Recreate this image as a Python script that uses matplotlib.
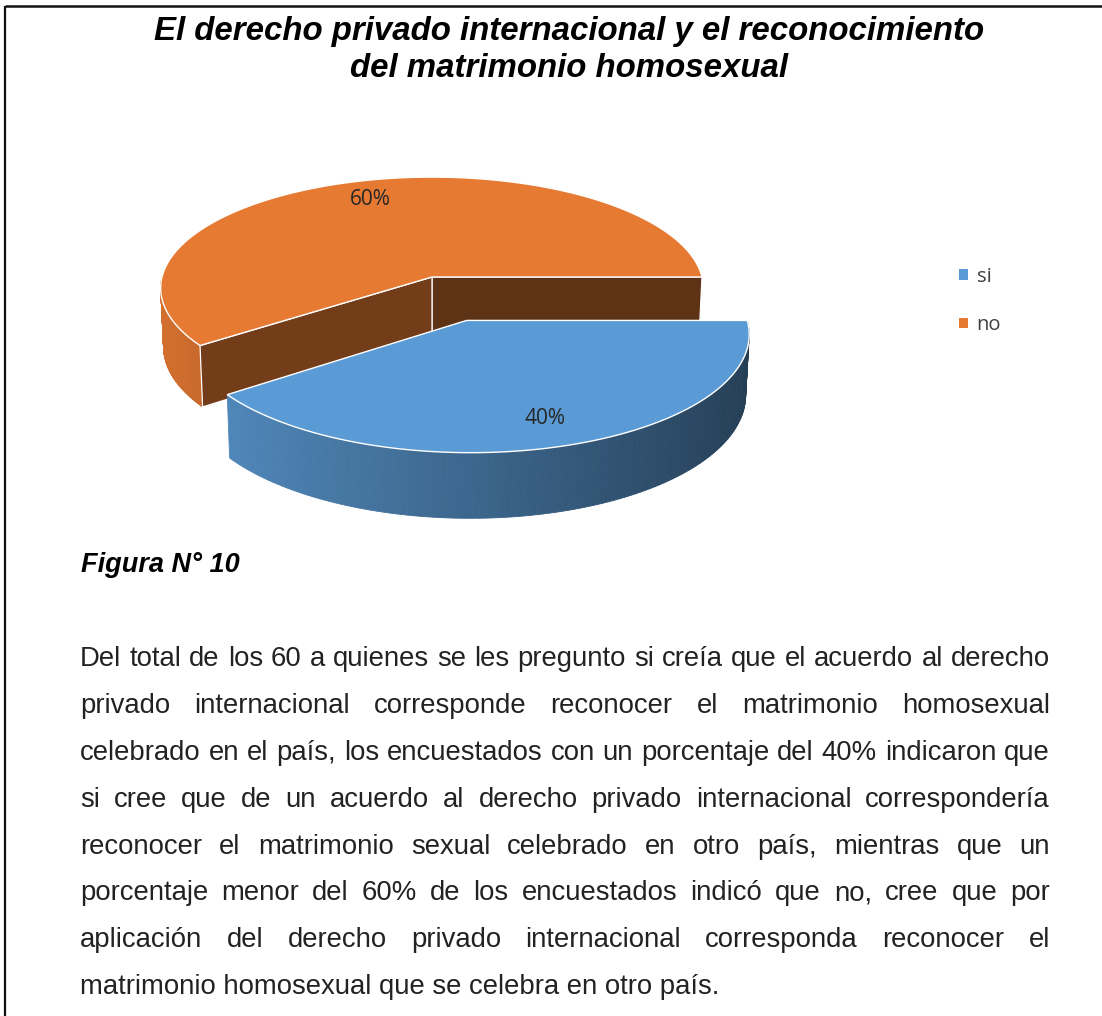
"""3D exploded pie (Excel style) with caption and justified paragraph."""
import numpy as np
import matplotlib
matplotlib.use("Agg")
import matplotlib.pyplot as plt
from matplotlib.patches import Polygon, Patch
from matplotlib.colors import to_rgb

W, H = 1102, 1016

TITLE = ["El derecho privado internacional y el reconocimiento",
         "del matrimonio homosexual"]
LABELS = ["si", "no"]
SHARES = [40, 60]
COLORS = ["#5B9BD5", "#E67A33"]
EXPLODE = [0.40, 0.0]
CAPTION = "Figura N° 10"
PARAGRAPH = [
    "Del total de los 60 a quienes se les pregunto si creía que el acuerdo al derecho",
    "privado internacional corresponde reconocer el matrimonio homosexual",
    "celebrado en el país, los encuestados con un porcentaje del 40% indicaron que",
    "si cree que de un acuerdo al derecho privado internacional correspondería",
    "reconocer el matrimonio sexual celebrado en otro país, mientras que un",
    "porcentaje menor del 60% de los encuestados indicó que no, cree que por",
    "aplicación del derecho privado internacional corresponda reconocer el",
    "matrimonio homosexual que se celebra en otro país.",
]

# camera for the 3D pie (pixel units on a full-figure axes)
CX, CY = 432, 277
ELEV = np.radians(24)
DIST = 9.2
SCALE = 2484
DEPTH = 0.24
START = 0.0      # degrees, slices run clockwise from 3 o'clock
LABEL_R = 0.8


def proj(x, y, z):
    x, y, z = np.broadcast_arrays(x, y, z)
    yc = y * np.sin(ELEV) + z * np.cos(ELEV)
    zc = DIST + y * np.cos(ELEV) - z * np.sin(ELEV)
    return np.column_stack([CX + SCALE * x / zc, CY - SCALE * yc / zc])


def shade(color, f):
    return tuple(np.clip(np.array(to_rgb(color)) * f, 0, 1))


def wall_shade(t):
    return 0.66 - 0.26 * np.cos(t)


def face_shade(n):
    return 0.41 + 0.15 * np.cos(n)


fig = plt.figure(figsize=(W / 100, H / 100), dpi=100)
ax = fig.add_axes([0, 0, 1, 1])
ax.set_xlim(0, W)
ax.set_ylim(H, 0)
ax.axis("off")

# page frame (only top and left visible)
ax.plot([5, 5], [6, H], color="#111111", lw=1.6, solid_capstyle="butt")
ax.plot([5, W], [6, 6], color="#111111", lw=1.8, solid_capstyle="butt")

# slices
total = sum(SHARES)
slices = []
cum = 0
for lab, val, col, ex in zip(LABELS, SHARES, COLORS, EXPLODE):
    a_start = np.radians(START - cum / total * 360)
    a_end = np.radians(START - (cum + val) / total * 360)
    cum += val
    lo, hi = a_end, a_start
    mid = (lo + hi) / 2
    ox, oy = ex * np.cos(mid), ex * np.sin(mid)
    slices.append(dict(label=lab, color=col, lo=lo, hi=hi, mid=mid, ox=ox, oy=oy,
                       val=val))

# paint back-to-front
slices.sort(key=lambda s: -(s["oy"] + 0.5 * np.sin(s["mid"])))
for s in slices:
    lo, hi, ox, oy, col = s["lo"], s["hi"], s["ox"], s["oy"], s["color"]
    # outer wall, front-facing part only
    for k in range(-2, 3):
        a = max(lo, -np.pi + 2 * np.pi * k)
        b = min(hi, 2 * np.pi * k)
        if b - a < 1e-6:
            continue
        ts = np.linspace(a, b, 120)
        for t0, t1 in zip(ts[:-1], ts[1:]):
            xs = ox + np.cos([t0, t1, t1, t0])
            ys = oy + np.sin([t0, t1, t1, t0])
            zs = np.array([0, 0, -DEPTH, -DEPTH])
            c = shade(col, wall_shade((t0 + t1) / 2))
            ax.add_patch(Polygon(proj(xs, ys, zs), closed=True, facecolor=c,
                                 edgecolor=c, lw=0.6, zorder=2))
    # radial cut faces
    for ang, nrm in ((lo, lo - np.pi / 2), (hi, hi + np.pi / 2)):
        if np.sin(nrm) >= 0:
            continue
        xs = ox + np.array([0, np.cos(ang), np.cos(ang), 0])
        ys = oy + np.array([0, np.sin(ang), np.sin(ang), 0])
        zs = np.array([0, 0, -DEPTH, -DEPTH])
        ax.add_patch(Polygon(proj(xs, ys, zs), closed=True,
                             facecolor=shade(col, face_shade(nrm)),
                             edgecolor="white", lw=0.9, zorder=2))
    # top face
    ts = np.linspace(lo, hi, 240)
    xs = np.concatenate([[ox], ox + np.cos(ts)])
    ys = np.concatenate([[oy], oy + np.sin(ts)])
    ax.add_patch(Polygon(proj(xs, ys, 0), closed=True, facecolor=col,
                         edgecolor="white", lw=1.0, zorder=3))
    # data label
    r = LABEL_R
    lx, ly = proj(ox + r * np.cos(s["mid"]), oy + r * np.sin(s["mid"]), 0)[0]
    ax.text(lx, ly, f"{s['val']}%", ha="center", va="center", fontsize=15,
            family="Open Sans", color="#262626", zorder=4)

# legend
handles = [Patch(facecolor=c, label=l) for l, c in zip(LABELS, COLORS)]
ax.legend(handles=handles, loc="center left", bbox_to_anchor=(949, 301),
          bbox_transform=ax.transData, frameon=False,
          prop=dict(family="Open Sans", size=14.5), labelcolor="#404040",
          handlelength=0.42, handleheight=0.42, handletextpad=0.45,
          labelspacing=1.4, borderpad=0)

# title
for i, line in enumerate(TITLE):
    ax.text(569, 40 + 37 * i, line, ha="center", va="baseline", fontsize=23.8,
            fontweight="bold", style="italic", family="Liberation Sans",
            color="black")

# caption
ax.text(81, 572, CAPTION, ha="left", va="baseline", fontsize=19.5,
        fontweight="bold", style="italic", family="Liberation Sans",
        color="black")

# justified paragraph
X0, X1, Y0, STEP = 80, 1050, 666, 46.9
txt_kw = dict(fontsize=19.8, family="Liberation Sans", color="#222222",
              va="baseline", ha="left")
renderer = fig.canvas.get_renderer()
for i, line in enumerate(PARAGRAPH):
    y = Y0 + STEP * i
    if i == len(PARAGRAPH) - 1:
        ax.text(X0, y, line, **txt_kw)
        continue
    words = [ax.text(0, y, w, **txt_kw) for w in line.split()]
    widths = [t.get_window_extent(renderer).width for t in words]
    gap = (X1 - X0 - sum(widths)) / (len(words) - 1)
    x = X0
    for t, w in zip(words, widths):
        t.set_x(x)
        x += w + gap

fig.savefig("out.png", dpi=100)
